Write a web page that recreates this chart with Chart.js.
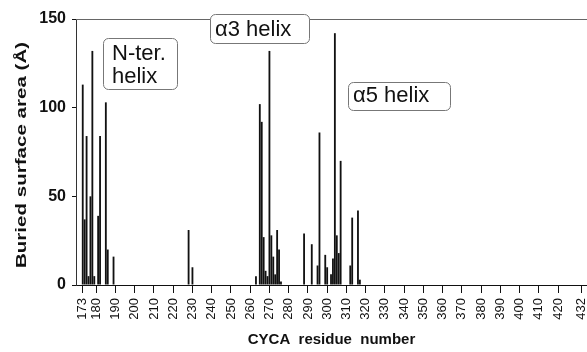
<!DOCTYPE html>
<html>
<head>
<meta charset="utf-8">
<script src="https://cdn.jsdelivr.net/npm/chart.js@4.4.1/dist/chart.umd.min.js"></script>
<style>
  html, body { margin: 0; padding: 0; background: #fff; }
</style>
</head>
<body>
<canvas id="chart_one" width="587" height="352"></canvas>
<script>
// residues with a non-zero buried surface area (the rest are 0)
var residues = [173, 174, 175, 176, 177, 178, 179, 181, 182, 185, 186, 189,
  228, 230,
  263, 265, 266, 267, 268, 269, 270, 271, 272, 273, 274, 275, 276,
  288, 292, 295, 296, 299, 300, 302, 303, 304, 305, 306, 307, 312, 313, 316, 317];

var buriedArea = [113, 37, 84, 5, 50, 132, 5, 39, 84, 103, 20, 16,
  31, 10,
  5, 102, 92, 27, 8, 5, 132, 28, 16, 6, 31, 20, 2,
  29, 23, 11, 86, 17, 10, 6, 15, 142, 28, 18, 70, 11, 38, 42, 3];

var xTickValues = [173, 180, 190, 200, 210, 220, 230, 240, 250, 260, 270, 280, 290,
  300, 310, 320, 330, 340, 350, 360, 370, 380, 390, 400, 410, 420, 432];
var yTickValues = [0, 50, 100, 150];

var helixLabels = [["N-ter.", "helix"], ["\u03b13 helix"], ["\u03b15 helix"]];
var yTitle = "Buried surface area (\u00c5)";

var sansFont = "'Liberation Sans', Arial, sans-serif";

var areaData = residues.map(function (r, i) {
  return { x: r, y: buriedArea[i] };
});

// top frame line, stretched y title and rounded label boxes
var boxesPlugin = {
  id: 'helixBoxes',
  afterDraw: function (chart) {
    var ctx = chart.ctx;
    var area = chart.chartArea;
    ctx.save();
    ctx.strokeStyle = '#666';
    ctx.lineWidth = 1;
    ctx.beginPath();
    ctx.moveTo(area.left, area.top + 0.5);
    ctx.lineTo(area.right, area.top + 0.5);
    ctx.stroke();

    // y title: the original lettering is drawn wide along the axis
    ctx.save();
    ctx.translate(22, 155);
    ctx.rotate(-Math.PI / 2);
    ctx.scale(1.37, 1);
    ctx.font = "bold 15px " + sansFont;
    ctx.fillStyle = '#111';
    ctx.textAlign = 'center';
    ctx.textBaseline = 'middle';
    ctx.fillText(yTitle, 0, 0);
    ctx.restore();

    var boxes = [
      { x: 103.5, y: 38.5, w: 74, h: 51, tx: 112, ty: [60, 83] },
      { x: 210.5, y: 14.5, w: 99, h: 29, tx: 215, ty: [36] },
      { x: 348.5, y: 82.5, w: 102, h: 28, tx: 353, ty: [102] }
    ];
    ctx.font = "22px " + sansFont;
    ctx.textBaseline = 'alphabetic';
    ctx.textAlign = 'left';
    boxes.forEach(function (b, i) {
      ctx.beginPath();
      ctx.roundRect(b.x, b.y, b.w, b.h, 5);
      ctx.fillStyle = '#fff';
      ctx.fill();
      ctx.strokeStyle = '#777';
      ctx.stroke();
      ctx.fillStyle = '#111';
      helixLabels[i].forEach(function (line, j) {
        ctx.fillText(line, b.tx, b.ty[j]);
      });
    });
    ctx.restore();
  }
};

new Chart(document.getElementById("chart_one"), {
  type: 'bar',
  data: {
    datasets: [{
      label: "Buried surface area",
      data: areaData,
      backgroundColor: '#111',
      borderWidth: 0,
      barPercentage: 1,
      categoryPercentage: 0.95
    }]
  },
  options: {
    responsive: false,
    animation: false,
    devicePixelRatio: 1,
    layout: { padding: { top: 19, right: 0, left: 0, bottom: 0 } },
    plugins: {
      legend: { display: false },
      tooltip: { enabled: false }
    },
    scales: {
      x: {
        type: 'linear',
        min: 169.5,
        max: 435,
        offset: false,
        afterBuildTicks: function (scale) {
          scale.ticks = xTickValues.map(function (v) { return { value: v }; });
        },
        afterFit: function (scale) {
          scale.height = 67;
          scale.paddingRight = 0;
        },
        ticks: {
          autoSkip: false,
          maxRotation: 90,
          minRotation: 90,
          padding: 5,
          color: '#111',
          font: { family: sansFont, size: 13 }
        },
        grid: {
          offset: false,
          drawOnChartArea: false,
          tickLength: 8,
          color: '#111'
        },
        border: { color: '#111', width: 1 },
        title: {
          display: true,
          text: "CYCA  residue  number",
          color: '#111',
          padding: { top: 0, bottom: 3 },
          font: { family: sansFont, size: 15, weight: 'bold' }
        }
      },
      y: {
        min: 0,
        max: 150,
        afterBuildTicks: function (scale) {
          scale.ticks = yTickValues.map(function (v) { return { value: v }; });
        },
        afterFit: function (scale) { scale.width = 76; },
        ticks: {
          padding: 6,
          color: '#111',
          font: { family: sansFont, size: 16, weight: 'bold' }
        },
        grid: {
          drawOnChartArea: false,
          tickLength: 4,
          color: '#111'
        },
        border: { color: '#333', width: 1 },
        title: { display: false }
      }
    }
  },
  plugins: [boxesPlugin]
});
</script>
</body>
</html>
